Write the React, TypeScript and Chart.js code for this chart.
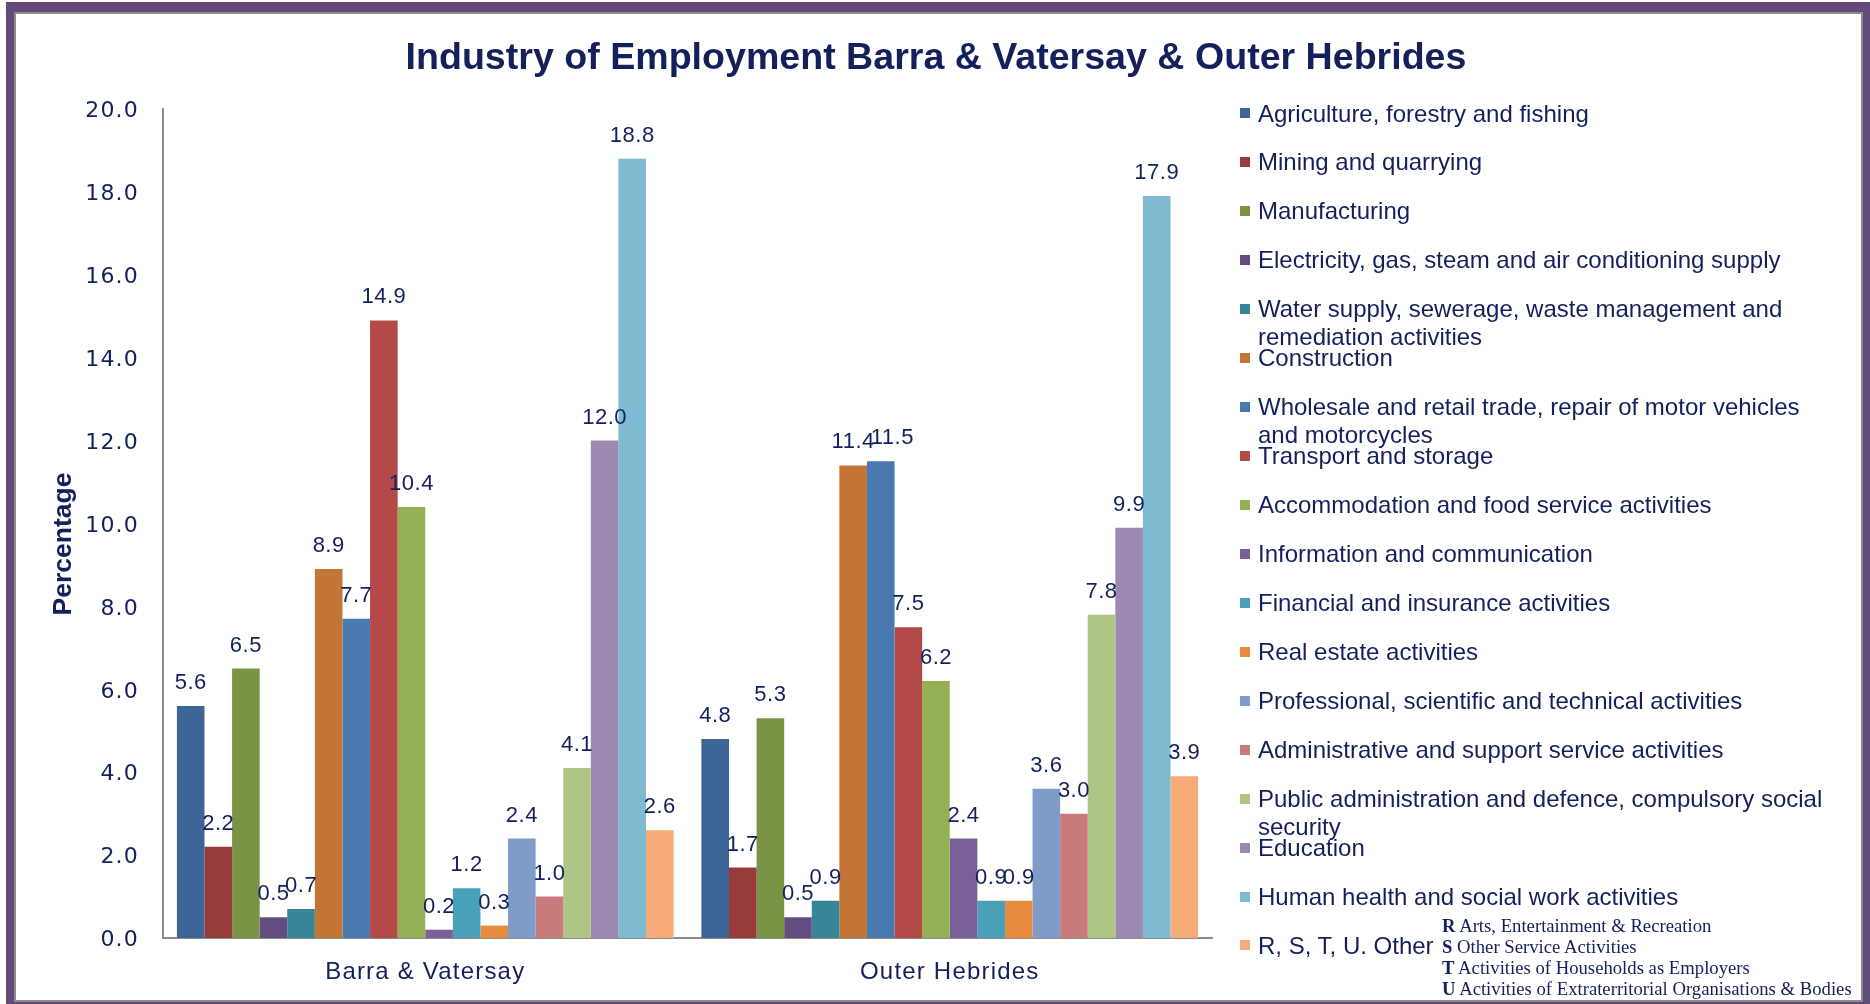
import React, { useEffect, useRef } from 'react';
import { Chart, registerables } from 'chart.js';

Chart.register(...registerables);

// ---------------- data ----------------
const chartTitle = 'Industry of Employment Barra & Vatersay & Outer Hebrides';
const yAxisTitle = 'Percentage';

const categories = ['Barra & Vatersay', 'Outer Hebrides'];

const industries = [
  'Agriculture, forestry and fishing',
  'Mining and quarrying',
  'Manufacturing',
  'Electricity, gas, steam and air conditioning supply',
  'Water supply, sewerage, waste management and remediation activities',
  'Construction',
  'Wholesale and retail trade, repair of motor vehicles and motorcycles',
  'Transport and storage',
  'Accommodation and food service activities',
  'Information and communication',
  'Financial and insurance activities',
  'Real estate activities',
  'Professional, scientific and technical activities',
  'Administrative and support service activities',
  'Public administration and defence, compulsory social security',
  'Education',
  'Human health and social work activities',
  'R, S, T, U. Other',
];

const barraValues = [5.6, 2.2, 6.5, 0.5, 0.7, 8.9, 7.7, 14.9, 10.4, 0.2, 1.2, 0.3, 2.4, 1.0, 4.1, 12.0, 18.8, 2.6];
const outerHebridesValues = [4.8, 1.7, 5.3, 0.5, 0.9, 11.4, 11.5, 7.5, 6.2, 2.4, 0.9, 0.9, 3.6, 3.0, 7.8, 9.9, 17.9, 3.9];

const seriesColors = [
  '#3e6597',
  '#973b3b',
  '#7a9344',
  '#634d80',
  '#378596',
  '#c27535',
  '#4a79b0',
  '#b44a48',
  '#94b055',
  '#7a5f98',
  '#48a1b9',
  '#e68b40',
  '#7f9bc7',
  '#c97b7c',
  '#afc586',
  '#9d89b2',
  '#7fbbd0',
  '#f6ab79',
];

const yMin = 0;
const yMax = 20;
const yStep = 2;

const footnoteCodes = ['R', 'S', 'T', 'U'];
const footnoteTexts = [
  'Arts, Entertainment & Recreation',
  'Other Service Activities',
  'Activities of Households as Employers',
  'Activities of Extraterritorial Organisations & Bodies',
];

// ---------------- styles ----------------
const NAVY = '#13205c';
const AXIS_GRAY = '#8c8c8c';
const PURPLE = '#624b7a';
const SANS = '"Liberation Sans", Arial, sans-serif';

// axis labels in the reference are slightly letter-spaced
const axisSpacingPlugin = {
  id: 'axisSpacing',
  beforeDraw(chart: any) {
    chart.ctx.letterSpacing = '1.2px';
  },
  beforeDatasetsDraw(chart: any) {
    chart.ctx.letterSpacing = '0px';
  },
};

// value labels above each bar; a label that would collide with the previous
// label of the same group is nudged to the right (like the original chart)
const valueLabelPlugin = {
  id: 'valueLabels',
  afterDatasetsDraw(chart: any) {
    const ctx = chart.ctx;
    ctx.save();
    ctx.letterSpacing = '0.5px';
    ctx.font = '22px ' + SANS;
    ctx.fillStyle = NAVY;
    ctx.textAlign = 'center';
    ctx.textBaseline = 'alphabetic';
    const nCat = chart.data.labels.length;
    for (let j = 0; j < nCat; j++) {
      let prev: { right: number; top: number; bottom: number } | null = null;
      chart.data.datasets.forEach((ds: any, i: number) => {
        const el = chart.getDatasetMeta(i).data[j];
        const text = (ds.data[j] as number).toFixed(1);
        const w = ctx.measureText(text).width;
        let x = el.x;
        const base = el.y - 17;
        const top = base - 16;
        const bottom = base;
        if (prev && x - w / 2 < prev.right - 6 && top < prev.bottom && bottom > prev.top) {
          x += prev.right - (x - w / 2) - 4;
        }
        ctx.fillText(text, x, base);
        prev = { right: x + w / 2, top, bottom };
      });
    }
    ctx.restore();
  },
};

function ChartCanvas() {
  const ref = useRef<HTMLCanvasElement | null>(null);
  useEffect(() => {
    if (!ref.current) return;
    const datasets = industries.map((name, i) => ({
      label: name,
      data: [barraValues[i], outerHebridesValues[i]],
      backgroundColor: seriesColors[i],
      borderWidth: 0,
    }));
    const chart = new Chart(ref.current, {
      type: 'bar',
      data: { labels: categories, datasets },
      options: {
        responsive: false,
        animation: false,
        layout: { padding: { top: 109, left: 0, right: 658, bottom: 16 } },
        datasets: { bar: { categoryPercentage: 0.947, barPercentage: 1 } },
        plugins: {
          legend: { display: false },
          title: { display: false },
          tooltip: { enabled: false },
        },
        scales: {
          x: {
            grid: { display: false, drawTicks: false },
            border: { display: true, color: AXIS_GRAY, width: 2 },
            ticks: { font: { family: SANS, size: 24 }, color: NAVY, padding: 20 },
            afterFit(scale: any) {
              scale.height = 50;
            },
          },
          y: {
            min: yMin,
            max: yMax,
            grid: { display: false, drawTicks: false },
            border: { display: true, color: AXIS_GRAY, width: 2 },
            ticks: {
              stepSize: yStep,
              callback: (v: any) => Number(v).toFixed(1),
              font: { family: '"DejaVu Sans", Verdana, sans-serif', size: 22 },
              color: NAVY,
              padding: 24,
              labelOffset: 2.5,
            },
            afterFit(scale: any) {
              scale.width = 163;
            },
          },
        },
      } as any,
      plugins: [axisSpacingPlugin, valueLabelPlugin],
    });
    return () => chart.destroy();
  }, []);
  return (
    <canvas
      ref={ref}
      width={1870}
      height={1004}
      style={{ position: 'absolute', left: 0, top: 0, width: 1870, height: 1004 }}
    />
  );
}

export default function App() {
  return (
    <div style={{ position: 'absolute', left: 0, top: 0, width: 1870, height: 1004, overflow: 'hidden', background: '#fff' }}>
      <div style={{ position: 'absolute', left: 6, top: 2, width: 1864, height: 1002, background: PURPLE }} />
      <div
        style={{
          position: 'absolute',
          left: 14,
          top: 12,
          width: 1845,
          height: 986,
          border: '2px solid ' + AXIS_GRAY,
          background: '#fff',
        }}
      />
      <ChartCanvas />
      <div
        style={{
          position: 'absolute',
          left: 0,
          width: 1872,
          top: 38,
          textAlign: 'center',
          fontFamily: SANS,
          fontWeight: 'bold',
          fontSize: 37.6,
          lineHeight: '37px',
          color: NAVY,
          whiteSpace: 'nowrap',
        }}
      >
        {chartTitle}
      </div>
      <div
        style={{
          position: 'absolute',
          left: 62 - 100,
          top: 544 - 15,
          width: 200,
          height: 30,
          lineHeight: '30px',
          textAlign: 'center',
          transform: 'rotate(-90deg)',
          fontFamily: SANS,
          fontWeight: 'bold',
          fontSize: 26.5,
          color: NAVY,
        }}
      >
        {yAxisTitle}
      </div>
      {industries.map((name, i) => {
        const cy = 113 + i * 48.97;
        return (
          <div key={name}>
            <div
              style={{
                position: 'absolute',
                left: 1240,
                top: cy - 5,
                width: 10,
                height: 10,
                background: seriesColors[i],
              }}
            />
            <div
              style={{
                position: 'absolute',
                left: 1258,
                top: cy - 13.5,
                width: 574,
                fontFamily: SANS,
                fontSize: 24,
                lineHeight: '27.5px',
                color: NAVY,
              }}
            >
              {name}
            </div>
          </div>
        );
      })}
      {footnoteCodes.map((code, i) => (
        <div
          key={code}
          style={{
            position: 'absolute',
            left: 1442,
            top: 914.5 + i * 21,
            fontFamily: '"Liberation Serif", "Times New Roman", serif',
            fontSize: 18.7,
            lineHeight: '21px',
            color: NAVY,
            whiteSpace: 'nowrap',
          }}
        >
          <b>{code}</b> {footnoteTexts[i]}
        </div>
      ))}
    </div>
  );
}
